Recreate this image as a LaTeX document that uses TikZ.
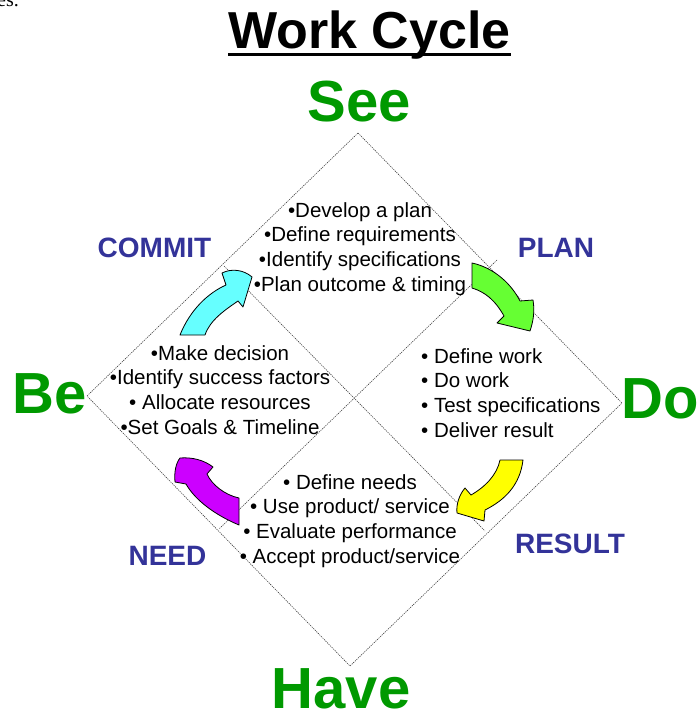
\documentclass[tikz,border=0pt]{standalone}
\usepackage{fontspec}
\setmainfont{Liberation Sans}
\newfontfamily\captionserif{Liberation Serif}
\definecolor{wordgreen}{RGB}{0,153,0}
\definecolor{phaseblue}{RGB}{51,51,153}
\definecolor{commitcyan}{RGB}{102,255,255}
\definecolor{plangreen}{RGB}{102,255,51}
\definecolor{resultyellow}{RGB}{255,255,0}
\definecolor{needmagenta}{RGB}{204,0,255}
\begin{document}
\begin{tikzpicture}[x=1pt,y=-1pt,
  bigword/.style={text=wordgreen, font=\fontsize{58}{58}\selectfont\bfseries, inner sep=0pt, anchor=base},
  phase/.style={text=phaseblue, font=\fontsize{28}{28}\selectfont\bfseries, inner sep=0pt, anchor=base},
  tasks/.style={font=\fontsize{20.5}{24.7}\selectfont, inner sep=0pt, anchor=north},
  gridline/.style={line width=0.6pt, black!75, dash pattern=on 1.2pt off 1pt},
  cyclearrow/.style={draw=black, line width=0.8pt, line join=round}
]
\useasboundingbox (0,0) rectangle (696,711);

% trailing words of the preceding caption
\node[font=\captionserif\fontsize{20}{20}\selectfont, anchor=base west, inner sep=0pt] (caption) at (-3,7) {es.};

% title
\node[font=\fontsize{52}{52}\selectfont\bfseries, anchor=base, inner sep=0pt] (title) at (369.5,49) {Work Cycle};
\draw[line width=3.8pt] ([yshift=-5.5pt]title.base west) -- ([yshift=-5.5pt]title.base east);

% diamond and its quarter lines
\coordinate (top) at (358,133);
\coordinate (right) at (622,403);
\coordinate (bottom) at (350,666);
\coordinate (left) at (87,396);
\draw[gridline] (top) -- (right) -- (bottom) -- (left) -- cycle;
\coordinate (q1) at (224,266);
\coordinate (q2) at (485,531);
\coordinate (q3) at (497,260);
\coordinate (q4) at (219,529);
\draw[gridline] (q1) -- (q2);
\draw[gridline] (q3) -- (q4);

% the four corner words
\node[bigword] (see) at (359,122) {See};
\node[bigword] (be) at (49.5,413) {Be};
\node[bigword, anchor=base west] (do) at (621,418) {Do};
\node[bigword] (have) at (341,708) {Have};

% phase labels
\node[phase] (commit) at (154.5,257) {COMMIT};
\node[phase] (plan) at (556,257) {PLAN};
\node[phase] (result) at (570,553) {RESULT};
\node[phase] (need) at (167.5,565) {NEED};

% task lists
\node[tasks, align=center] (plantasks) at (360,202)
  {•Develop a plan\\•Define requirements\\•Identify specifications\\•Plan outcome \& timing};
\node[tasks, align=left, anchor=north west] (dotasks) at (421,348)
  {• Define work\\• Do work\\• Test specifications\\• Deliver result};
\node[tasks, align=center] (committasks) at (220,345)
  {•Make decision\\•Identify success factors\\• Allocate resources\\•Set Goals \& Timeline};
\node[tasks, align=center] (needtasks) at (350,474)
  {• Define needs\\• Use product/ service\\• Evaluate performance\\• Accept product/service};

% curved cycle arrows
\path[cyclearrow, fill=commitcyan]
  (180,335) .. controls (190,310) and (208,293) .. (226,285)
  -- (222,273) .. controls (232,268) and (244,270) .. (252,277)
  -- (243,307) -- (238,301)
  .. controls (225,310) and (210,320) .. (205,335) -- cycle;
\path[cyclearrow, fill=plangreen]
  (472,263) .. controls (495,268) and (512,285) .. (520,301)
  -- (533,300) .. controls (535,312) and (533,322) .. (530,331)
  -- (497,323) -- (504,316)
  .. controls (495,300) and (485,292) .. (472,288) -- cycle;
\path[cyclearrow, fill=resultyellow]
  (500,460) .. controls (497,475) and (485,487) .. (471,495)
  -- (465,488) .. controls (459,495) and (456,505) .. (457,513)
  -- (484,521) -- (485,510)
  .. controls (505,500) and (520,485) .. (523,460) -- cycle;
\path[cyclearrow, fill=needmagenta]
  (239,498) -- (239,525) .. controls (215,515) and (195,500) .. (186,484)
  -- (175,482) .. controls (174,472) and (176,463) .. (180,458)
  .. controls (192,457) and (204,460) .. (213,467)
  -- (207,474) .. controls (212,485) and (225,495) .. (239,498) -- cycle;
\end{tikzpicture}
\end{document}
